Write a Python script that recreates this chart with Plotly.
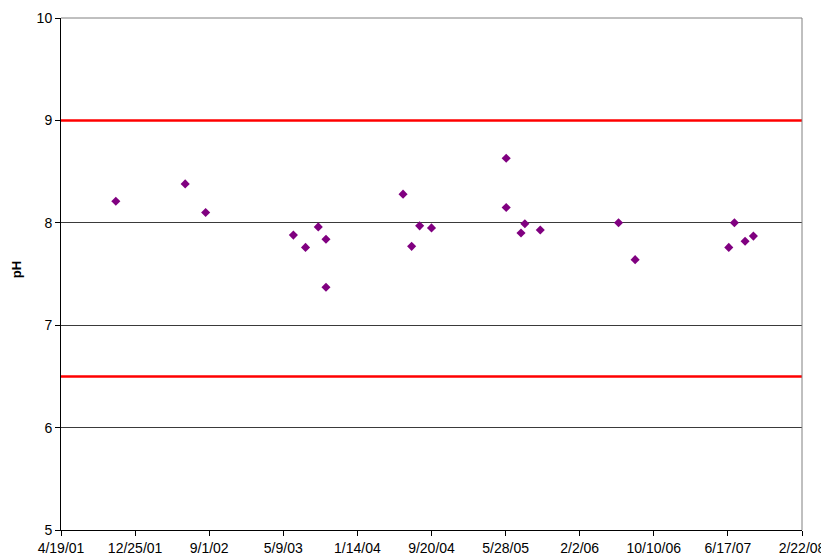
import plotly.graph_objs as go

# sample dates and pH readings
sample_dates = [
    "2001-10-21", "2002-06-12", "2002-08-20",
    "2003-06-12", "2003-07-23", "2003-09-04", "2003-09-30", "2003-09-30",
    "2004-06-16", "2004-07-15", "2004-08-11", "2004-09-20",
    "2005-05-30", "2005-05-30", "2005-07-19", "2005-08-01", "2005-09-22",
    "2006-06-13", "2006-08-08",
    "2007-06-20", "2007-07-09", "2007-08-14", "2007-09-11",
]
ph_values = [
    8.21, 8.38, 8.10,
    7.88, 7.76, 7.96, 7.84, 7.37,
    8.28, 7.77, 7.97, 7.95,
    8.63, 8.15, 7.90, 7.99, 7.93,
    8.00, 7.64,
    7.76, 8.00, 7.82, 7.87,
]

upper_limit = 9.0
lower_limit = 6.5

tick_dates = [
    "2001-04-19", "2001-12-25", "2002-09-01", "2003-05-09", "2004-01-14",
    "2004-09-20", "2005-05-28", "2006-02-02", "2006-10-10", "2007-06-17",
    "2008-02-22",
]
tick_labels = [
    "4/19/01", "12/25/01", "9/1/02", "5/9/03", "1/14/04", "9/20/04",
    "5/28/05", "2/2/06", "10/10/06", "6/17/07", "2/22/08",
]

fig = go.Figure()

for lim in (upper_limit, lower_limit):
    fig.add_trace(go.Scatter(
        x=[tick_dates[0], tick_dates[-1]],
        y=[lim, lim],
        mode="lines",
        line=dict(color="#ff0000", width=2.5),
        showlegend=False,
        hoverinfo="skip",
    ))

fig.add_trace(go.Scatter(
    x=sample_dates,
    y=ph_values,
    mode="markers",
    marker=dict(symbol="diamond", color="#800080", size=7),
    showlegend=False,
    hovertemplate="%{x|%m/%d/%y}<br>pH: %{y:.2f}<extra></extra>",
))

# page body has an 8px margin, so the figure sits at (8, 8)
fig.update_layout(
    width=821,
    height=551,
    paper_bgcolor="white",
    plot_bgcolor="white",
    margin=dict(l=53, r=27, t=10, b=29),
    font=dict(family="Arial, Liberation Sans, sans-serif", size=14, color="black"),
    xaxis=dict(
        type="date",
        range=[tick_dates[0], tick_dates[-1]],
        tickvals=tick_dates,
        ticktext=tick_labels,
        ticks="outside",
        ticklen=5,
        tickcolor="black",
        showgrid=False,
        showline=True,
        linecolor="black",
        linewidth=1,
        zeroline=False,
        automargin=False,
    ),
    yaxis=dict(
        range=[5, 10],
        dtick=1,
        tick0=5,
        ticks="outside",
        ticklen=5,
        tickcolor="black",
        showgrid=True,
        gridcolor="#3a3a3a",
        gridwidth=1,
        showline=True,
        linecolor="black",
        linewidth=1,
        zeroline=False,
        automargin=False,
    ),
    annotations=[
        dict(text="<b>pH</b>", xref="paper", yref="paper", x=-0.059, y=0.508,
             textangle=-90, showarrow=False, font=dict(size=13),
             xanchor="center", yanchor="middle"),
    ],
    shapes=[
        dict(type="line", xref="paper", yref="paper", x0=1, x1=1, y0=0, y1=1,
             line=dict(color="#808080", width=1)),
        dict(type="line", xref="paper", yref="paper", x0=0, x1=1, y0=1, y1=1,
             line=dict(color="#808080", width=1)),
    ],
)

fig.write_html("out.html")
